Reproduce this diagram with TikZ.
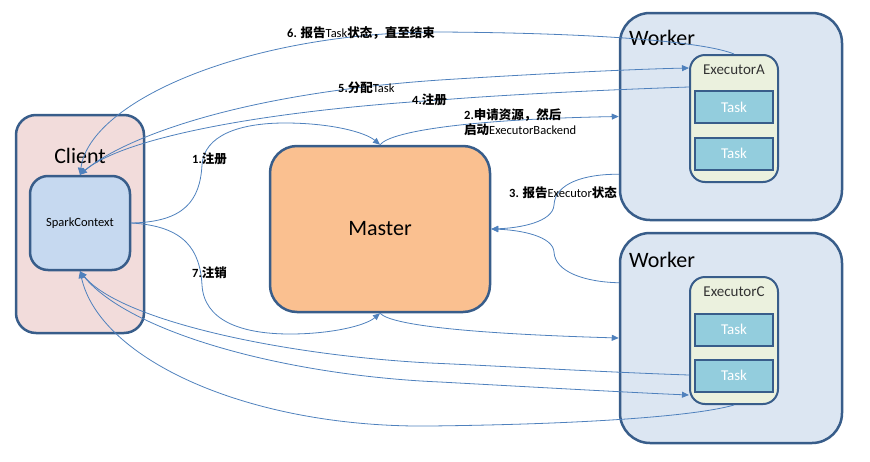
\documentclass[tikz,border=0pt]{standalone}
\usepackage{fontspec}
\setmainfont{Carlito}
\newfontfamily\cjk{Noto Sans CJK SC}
\usetikzlibrary{arrows.meta,calc}
\definecolor{edgeblue}{HTML}{385D8A}
\definecolor{arrblue}{HTML}{4F81BD}
\definecolor{clientfill}{HTML}{F2DCDB}
\definecolor{sparkfill}{HTML}{C6D9F0}
\definecolor{masterfill}{HTML}{FAC090}
\definecolor{workerfill}{HTML}{DCE6F2}
\definecolor{execfill}{HTML}{EBF1DE}
\definecolor{taskfill}{HTML}{93CDDD}
\newcommand{\zhb}[1]{{\cjk\bfseries #1}}
\tikzset{
  bigbox/.style={draw=edgeblue, line width=2.5pt, inner sep=0pt},
  execbox/.style={draw=edgeblue, line width=2pt, fill=execfill, rounded corners=15pt, minimum width=88pt, minimum height=127pt, inner sep=0pt},
  taskbox/.style={draw=edgeblue, line width=2pt, fill=taskfill, minimum width=78pt, minimum height=32pt, inner sep=0pt, text=white, font=\fontsize{15}{17}\selectfont},
  flow/.style={draw=arrblue, line width=0.8pt, -{Triangle[length=7pt,width=6pt]}},
  lbl/.style={anchor=west, inner sep=0pt, font=\fontsize{12.5}{13.5}\selectfont}
}
\begin{document}
\begin{tikzpicture}[x=1pt,y=-1pt]
\useasboundingbox (0,0) rectangle (870,461);
% boxes
\node[bigbox, fill=clientfill, rounded corners=20pt, minimum width=128pt, minimum height=218pt] (client) at (80,224) {};
\node[font=\fontsize{22}{24}\selectfont] (clientlbl) at (80,156) {Client};
\node[bigbox, fill=sparkfill, rounded corners=18pt, minimum width=100pt, minimum height=94pt, font=\fontsize{12.5}{14}\selectfont] (spark) at (80,223) {SparkContext};
\node[bigbox, fill=masterfill, rounded corners=27pt, minimum width=220pt, minimum height=166pt, font=\fontsize{22}{24}\selectfont] (master) at (380,229) {Master};
\node[bigbox, fill=workerfill, rounded corners=30pt, minimum width=222pt, minimum height=207pt] (w1) at (731,116.5) {};
\node[anchor=west, inner sep=0pt, font=\fontsize{22}{24}\selectfont] (w1lbl) at (629,38) {Worker};
\node[execbox] (exA) at (734,118.5) {};
\node[font=\fontsize{15}{17}\selectfont, text=black!80] (exAlbl) at (734,70) {ExecutorA};
\node[taskbox] (tA1) at (734,107) {Task};
\node[taskbox] (tA2) at (734,153.5) {Task};
\node[bigbox, fill=workerfill, rounded corners=30pt, minimum width=222pt, minimum height=210pt] (w2) at (731,338) {};
\node[anchor=west, inner sep=0pt, font=\fontsize{22}{24}\selectfont] (w2lbl) at (629,260) {Worker};
\node[execbox] (exC) at (734,340.5) {};
\node[font=\fontsize{15}{17}\selectfont, text=black!80] (exClbl) at (734,292) {ExecutorC};
\node[taskbox] (tC1) at (734,329.5) {Task};
\node[taskbox] (tC2) at (734,375.5) {Task};
% anchor points
\coordinate (w1a) at ($(w1.south west)+(0,-47)$);
\coordinate (w2a) at ($(w2.north west)+(0,51)$);
\coordinate (exA5) at ($(exA.north west)+(0,14)$);
\coordinate (exA4) at ($(exA.north west)+(0,33)$);
\coordinate (exC4) at ($(exC.north west)+(0,99)$);
\coordinate (exC5) at ($(exC.south west)+(0,-10)$);
% 1 register
\draw[flow] (spark.east) .. controls (185,222) and (200,200) .. (202,165)
  .. controls (204,135) and (240,123) .. (285,123)
  .. controls (330,123) and (365,132) .. (master.north);
% 7 unregister
\draw[flow] (spark.east) .. controls (185,226) and (200,250) .. (202,285)
  .. controls (204,320) and (240,334) .. (290,334)
  .. controls (330,334) and (365,326) .. (master.south);
% 2 request resources
\draw[flow] (master.north) .. controls (392,130) and (480,119) .. (w1.west);
\draw[flow] (master.south) .. controls (392,326) and (480,334) .. (w2.west);
% 3 report executor state
\draw[flow] (w1a) .. controls (585,174) and (555,183) .. (554,205)
  .. controls (553,222) and (520,228) .. (master.east);
\draw[flow] (w2a) .. controls (585,282) and (555,272) .. (554,252)
  .. controls (553,236) and (520,230) .. (master.east);
% 6 report task state
\draw[flow] (exA.north) .. controls (705,42) and (600,33) .. (440,32)
  .. controls (250,32) and (90,100) .. (spark.north);
\draw[flow] (exC.south) .. controls (700,415) and (600,424) .. (430,426)
  .. controls (250,428) and (100,360) .. (spark.south);
% 5 assign task
\draw[flow] (spark.north) .. controls (110,145) and (220,95) .. (440,80)
  .. controls (550,73) and (640,69) .. (exA5);
\draw[flow] (spark.south) .. controls (120,330) and (280,375) .. (440,382)
  .. controls (550,388) and (640,393) .. (exC5);
% 4 register
\draw[flow] (exA4) .. controls (600,90) and (500,95) .. (440,100)
  .. controls (250,112) and (120,140) .. (spark.north);
\draw[flow] (exC4) .. controls (600,372) and (500,366) .. (430,363)
  .. controls (280,355) and (120,320) .. (spark.south);
% labels
\node[lbl] (l6) at (287,33) {\textbf{6.} \zhb{报告}Task\zhb{状态，直至结束}};
\node[lbl] (l5) at (338,88) {\textbf{5.}\zhb{分配}Task};
\node[lbl] (l4) at (412,100) {\textbf{4.}\zhb{注册}};
\node[lbl] (l2a) at (464,115) {\textbf{2.}\zhb{申请资源，然后}};
\node[lbl] (l2b) at (464,130) {\zhb{启动}ExecutorBackend};
\node[lbl] (l1) at (192,159) {\textbf{1.}\zhb{注册}};
\node[lbl] (l3) at (509,193) {\textbf{3.} \zhb{报告}Executor\zhb{状态}};
\node[lbl] (l7) at (192,273) {\textbf{7.}\zhb{注销}};
\end{tikzpicture}
\end{document}
